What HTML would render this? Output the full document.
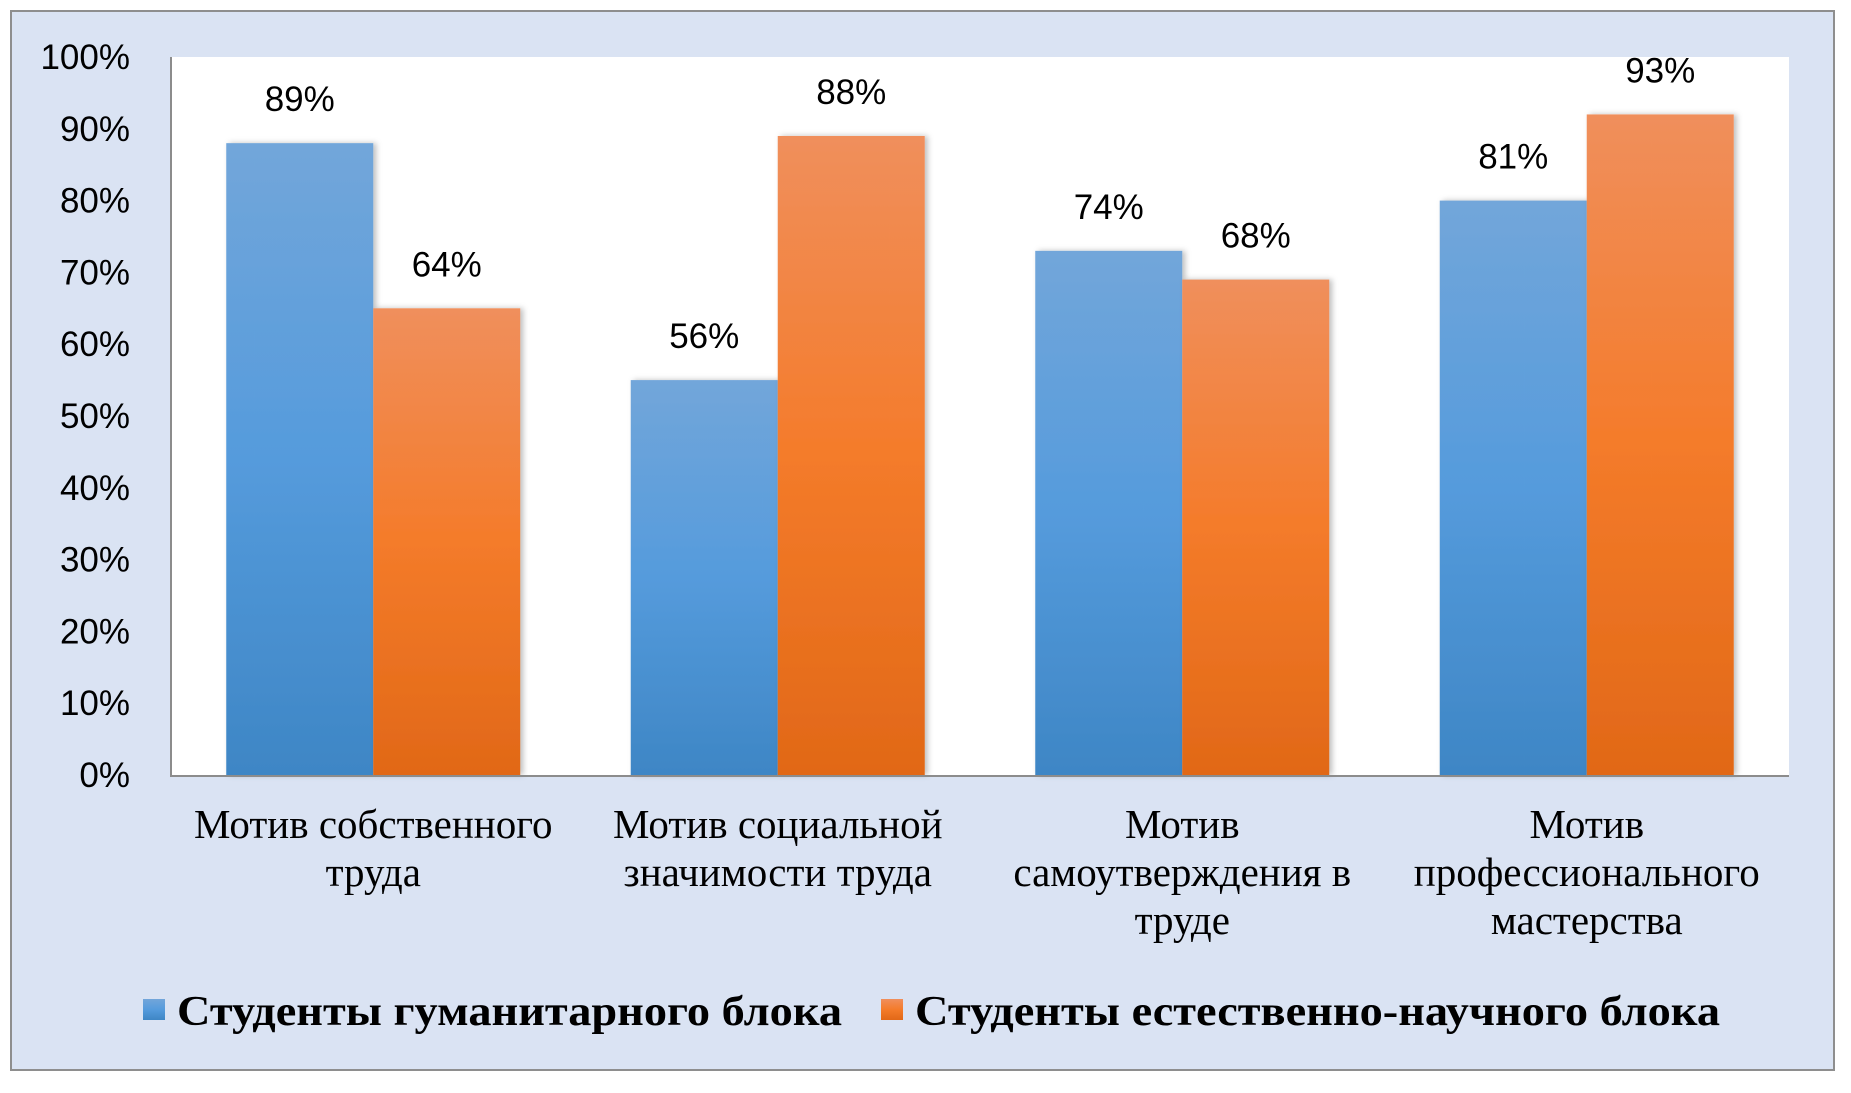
<!DOCTYPE html>
<html><head><meta charset="utf-8"><style>
html,body{margin:0;padding:0;background:#fff;}
svg{display:block;}
</style></head><body>
<svg id="chart" width="1851" height="1093" viewBox="0 0 1851 1093" xmlns="http://www.w3.org/2000/svg">
<defs>
<linearGradient id="gBlue" x1="0" y1="0" x2="0" y2="1"><stop offset="0" stop-color="#72A6DA"/><stop offset="0.5" stop-color="#559BDC"/><stop offset="1" stop-color="#3E86C5"/></linearGradient>
<linearGradient id="gOrange" x1="0" y1="0" x2="0" y2="1"><stop offset="0" stop-color="#F08F5C"/><stop offset="0.5" stop-color="#F47B2A"/><stop offset="1" stop-color="#E16817"/></linearGradient>
<filter id="sh" x="-10%" y="-10%" width="130%" height="120%"><feDropShadow dx="3" dy="0" stdDeviation="3" flood-color="#000" flood-opacity="0.25"/></filter>
</defs>
<rect x="11" y="11" width="1823" height="1059" fill="#DAE3F3" stroke="#8E8E8E" stroke-width="2"/>
<rect x="171" y="57" width="1618" height="718" fill="#FFFFFF"/>
<g id="ticks"></g>
<g id="bars"></g>
<g id="labels"></g>
<line x1="171" y1="57" x2="171" y2="776" stroke="#8C8C8C" stroke-width="2"/>
<line x1="170" y1="776" x2="1789" y2="776" stroke="#8C8C8C" stroke-width="2"/>
<g id="cats" font-family="'Liberation Serif', serif" font-size="41" text-anchor="middle" fill="#000"></g>
<g font-family="'Liberation Serif', serif" font-weight="bold" font-size="42" fill="#000">
<rect x="143" y="999" width="22" height="21" fill="url(#gBlue)"/>
<text x="177" y="1025" textLength="665" lengthAdjust="spacingAndGlyphs">Студенты гуманитарного блока</text>
<rect x="881" y="999" width="22" height="21" fill="url(#gOrange)"/>
<text x="915" y="1025" textLength="805" lengthAdjust="spacingAndGlyphs">Студенты естественно-научного блока</text>
</g>
</svg>
<script>
const categories = [["Мотив собственного","труда"],["Мотив социальной","значимости труда"],["Мотив","самоутверждения в","труде"],["Мотив","профессионального","мастерства"]];
const humanities = [88, 55, 73, 80];
const sciences = [65, 89, 69, 92];
const humanitiesLabels = ["89%", "56%", "74%", "81%"];
const sciencesLabels = ["64%", "88%", "68%", "93%"];
const yTicks = [0,10,20,30,40,50,60,70,80,90,100];

const NS = "http://www.w3.org/2000/svg";
const X0 = 171, X1 = 1789, Y0 = 775, Y1 = 57;
function y(v){ return Y0 - (v/100)*(Y0-Y1); }
function groupX(i){ return X0 + (i + 0.5) * (X1-X0)/categories.length; }
const BW = 147;
function mk(tag, attrs){ const e=document.createElementNS(NS,tag); for(const k in attrs) e.setAttribute(k, attrs[k]); return e; }

const tg = document.getElementById('ticks');
yTicks.forEach(t=>{
  const tx = mk('text',{x:130,y:y(t)+12,'text-anchor':'end','font-family':"'Liberation Sans', sans-serif",'font-size':35,fill:'#000'});
  tx.textContent = t + '%';
  
  
  tg.appendChild(tx);
});

const bg = document.getElementById('bars');
const lg = document.getElementById('labels');
function drawSeries(vals, labels, offset, fill, name){
  vals.forEach((v,i)=>{
    const cx = groupX(i);
    const x = offset < 0 ? cx - BW : cx;
    const r = mk('rect',{x:x,y:y(v),width:BW,height:Y0-y(v),fill:fill,filter:'url(#sh)'});
    
    
    bg.appendChild(r);
    const t = mk('text',{x:x+BW/2,y:y(v)-32,'text-anchor':'middle','font-family':"'Liberation Sans', sans-serif",'font-size':35,fill:'#000'});
    t.textContent = labels[i];
    
    
    lg.appendChild(t);
  });
}
drawSeries(humanities, humanitiesLabels, -1, 'url(#gBlue)', 'humanities');
drawSeries(sciences, sciencesLabels, 1, 'url(#gOrange)', 'sciences');

const cg = document.getElementById('cats');
categories.forEach((lines,i)=>{
  const t = mk('text',{x:groupX(i),y:838});
  
  
  lines.forEach((ln,j)=>{
    const s = mk('tspan',{x:groupX(i),y:838+j*48});
    s.textContent = ln;
    t.appendChild(s);
  });
  cg.appendChild(t);
});
</script>
</body></html>
